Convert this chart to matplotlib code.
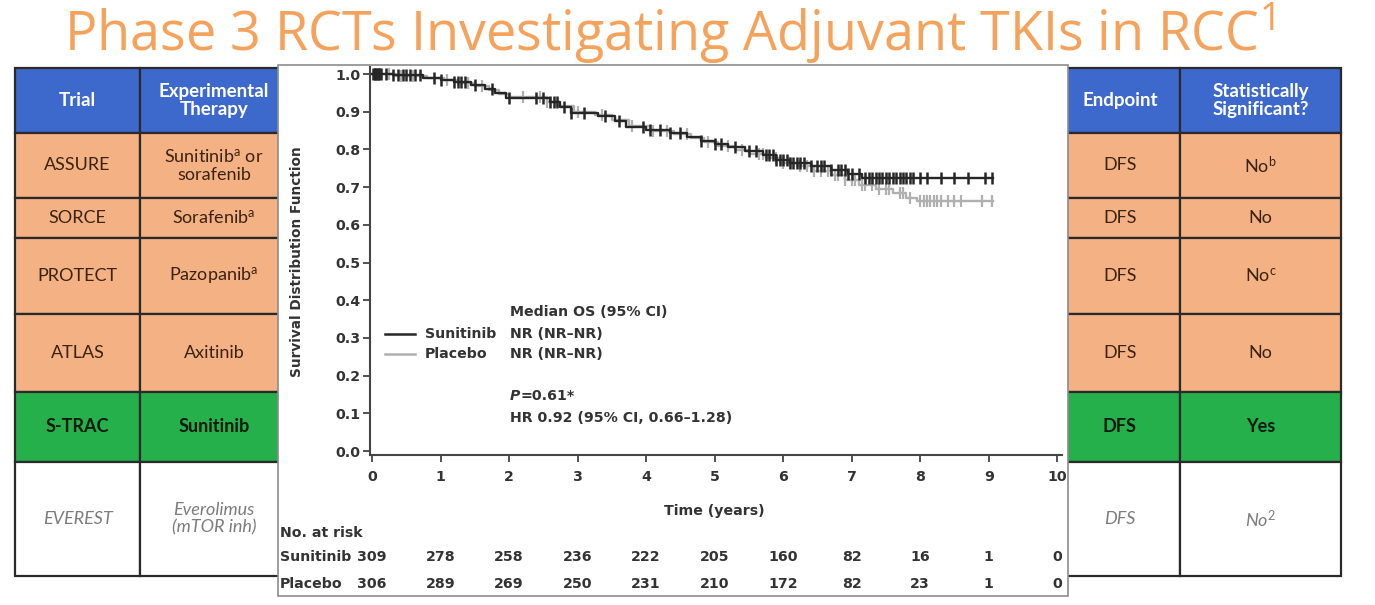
import matplotlib.pyplot as plt
import matplotlib.transforms as mtransforms
import numpy as np
from matplotlib.patches import Rectangle

plt.rcParams["mathtext.fontset"] = "custom"
plt.rcParams["mathtext.rm"] = "Lato"
plt.rcParams["mathtext.it"] = "Lato:italic"
plt.rcParams["mathtext.bf"] = "Lato:bold"

# ---- table data ----
headers_left = ["Trial", "Experimental\nTherapy"]
headers_right = ["Endpoint", "Statistically\nSignificant?"]
trials = ["ASSURE", "SORCE", "PROTECT", "ATLAS", "S-TRAC", "EVEREST"]
therapies = ["Sunitinib$^{\\mathrm{a}}$ or\nsorafenib", "Sorafenib$^{\\mathrm{a}}$",
             "Pazopanib$^{\\mathrm{a}}$", "Axitinib", "Sunitinib", "Everolimus\n(mTOR inh)"]
endpoints = ["DFS", "DFS", "DFS", "DFS", "DFS", "DFS"]
significant = ["No$^{\\mathrm{b}}$", "No", "No$^{\\mathrm{c}}$", "No", "Yes", "No$^{2}$"]
row_kind = ["neg", "neg", "neg", "neg", "pos", "other"]

# ---- Kaplan-Meier data ----
sun_t = [0, 0.3, 0.75, 1.0, 1.2, 1.45, 1.65, 1.8, 1.95, 2.6, 2.75, 2.9, 3.3, 3.55, 3.7,
         4.0, 4.35, 4.6, 4.8, 5.0, 5.2, 5.45, 5.7, 5.9, 6.1, 6.4, 6.7, 6.95, 7.15, 9.07]
sun_s = [1.0, 0.997, 0.99, 0.985, 0.978, 0.97, 0.96, 0.95, 0.937, 0.925, 0.913, 0.897, 0.889,
         0.875, 0.86, 0.852, 0.843, 0.833, 0.823, 0.815, 0.806, 0.795, 0.784, 0.772, 0.765,
         0.755, 0.745, 0.735, 0.724, 0.724]
pla_t = [0, 0.35, 0.8, 1.05, 1.25, 1.5, 1.7, 1.85, 2.0, 2.55, 2.7, 2.95, 3.25, 3.5, 3.75,
         4.05, 4.4, 4.65, 4.85, 5.05, 5.3, 5.5, 5.75, 5.95, 6.2, 6.45, 6.7, 6.9, 7.1, 7.35,
         7.6, 7.8, 7.95, 9.07]
pla_s = [1.0, 0.996, 0.99, 0.983, 0.976, 0.968, 0.958, 0.948, 0.938, 0.927, 0.915, 0.9,
         0.891, 0.878, 0.863, 0.85, 0.841, 0.831, 0.82, 0.81, 0.799, 0.788, 0.776, 0.765,
         0.755, 0.743, 0.731, 0.718, 0.706, 0.695, 0.684, 0.672, 0.662, 0.662]
sun_cens = [0.02, 0.04, 0.05, 0.07, 0.08, 0.1, 0.13, 0.2, 0.3, 0.38, 0.45, 0.5, 0.55, 0.62,
            0.7, 0.9, 1.0, 1.2, 1.25, 1.3, 1.35, 1.5, 1.75, 2.0, 2.4, 2.5, 2.6, 2.65, 2.7,
            2.8, 2.9, 3.1, 3.4, 3.6, 3.95, 4.05, 4.2, 4.35, 4.5, 4.8, 5.0, 5.1, 5.3, 5.5,
            5.6, 5.75, 5.8, 5.85, 5.9, 5.95, 6.0, 6.05, 6.1, 6.15, 6.2, 6.25, 6.3, 6.4, 6.5,
            6.55, 6.6, 6.7, 6.8, 6.85, 6.9, 6.95, 7.0, 7.1, 7.2, 7.25, 7.3, 7.35, 7.4, 7.45,
            7.5, 7.55, 7.6, 7.65, 7.7, 7.75, 7.8, 7.85, 7.9, 8.0, 8.1, 8.3, 8.5, 8.7, 8.95,
            9.05]
pla_cens = [0.04, 0.12, 0.25, 0.42, 0.6, 1.1, 1.4, 1.6, 2.2, 2.45, 2.55, 3.0, 3.35, 3.8,
            4.1, 4.3, 4.6, 4.9, 5.2, 5.4, 5.65, 5.7, 5.9, 6.0, 6.1, 6.25, 6.35, 6.45, 6.55,
            6.65, 6.75, 6.8, 6.9, 7.0, 7.05, 7.15, 7.2, 7.3, 7.4, 7.5, 7.55, 7.7, 7.75, 7.85,
            8.0, 8.05, 8.1, 8.15, 8.2, 8.25, 8.3, 8.4, 8.5, 8.6, 8.9, 9.05]
risk_times = [0, 1, 2, 3, 4, 5, 6, 7, 8, 9, 10]
risk_sun = [309, 278, 258, 236, 222, 205, 160, 82, 16, 1, 0]
risk_pla = [306, 289, 269, 250, 231, 210, 172, 82, 23, 1, 0]

W, H = 1375, 605
fig = plt.figure(figsize=(13.75, 6.05), dpi=100)
bg = fig.add_axes([0, 0, 1, 1])
bg.set_xlim(0, W)
bg.set_ylim(H, 0)
bg.axis("off")

bg.text(64, 34, "Phase 3 RCTs Investigating Adjuvant TKIs in RCC$^{\\mathregular{1}}$",
        fontsize=38.8, color="#F5A35C", family="Open Sans", ha="left", va="center")

# ---- table ----
row_edges = [68, 133, 198, 238, 314, 392, 462, 576]
left_cols = [15, 140, 290]
right_cols = [1060, 1180, 1341]
fills = {"head": "#3D68CC", "neg": "#F4B183", "pos": "#25B04B", "other": "white"}
tcolor = {"neg": "#3A2312", "pos": "#0E1A0E", "other": "#7C7C7C"}
tstyle = {"neg": ("normal", "normal"), "pos": ("bold", "normal"), "other": ("normal", "italic")}

for cols, heads, c1, c2 in [(left_cols, headers_left, trials, therapies),
                            (right_cols, headers_right, endpoints, significant)]:
    for j in range(2):
        x0, x1 = cols[j], cols[j + 1]
        xc = (x0 + x1) / 2 if not (cols is left_cols and j == 1) else 214
        bg.add_patch(Rectangle((x0, row_edges[0]), x1 - x0, row_edges[1] - row_edges[0],
                               fc=fills["head"], ec="#2a2a2a", lw=1.6))
        bg.text(xc, (row_edges[0] + row_edges[1]) / 2, heads[j], color="white",
                fontweight="bold", family="Lato", fontsize=13.5, ha="center",
                va="center", linespacing=1.1)
        vals = c1 if j == 0 else c2
        for i, v in enumerate(vals):
            kind = row_kind[i]
            y0, y1 = row_edges[i + 1], row_edges[i + 2]
            bg.add_patch(Rectangle((x0, y0), x1 - x0, y1 - y0, fc=fills[kind],
                                   ec="#2a2a2a", lw=1.6))
            w, s = tstyle[kind]
            bg.text(xc, (y0 + y1) / 2, v, color=tcolor[kind], fontweight=w, fontstyle=s,
                    family="Lato", fontsize=13, ha="center", va="center",
                    linespacing=1.1)

# ---- KM panel ----
bg.add_patch(Rectangle((278, 65), 790, 531, fc="white", ec="#8c8c8c", lw=1.2, zorder=5))
km_font = dict(family="DejaVu Sans", fontweight="bold", color="#333333")
fs = 10.2
bg.text(297, 262, "Survival Distribution Function", rotation=90, ha="center", va="center",
        fontsize=9.8, zorder=6, **km_font)

ax = fig.add_axes([370 / W, 1 - 455 / H, (1062 - 370) / W, (455 - 67) / H])
ax.set_facecolor("none")
ax.set_xlim(-0.03, 10.07)
ax.set_ylim(-0.0106, 1.0186)
for side in ["top", "right"]:
    ax.spines[side].set_visible(False)
for side in ["left", "bottom"]:
    ax.spines[side].set_color("#444444")
    ax.spines[side].set_linewidth(1.5)
ax.set_xticks(risk_times)
ax.set_yticks(np.arange(0, 1.01, 0.1))
ax.set_yticklabels([f"{v:.1f}" for v in np.arange(0, 1.01, 0.1)])
ax.tick_params(direction="out", length=5, width=1.3, color="#444444", labelsize=fs,
               labelcolor="#333333")
ax.tick_params(axis="x", pad=6)
ax.tick_params(axis="y", pad=2)
for lab in ax.get_xticklabels() + ax.get_yticklabels():
    lab.set_fontweight("bold")
    lab.set_family("DejaVu Sans")


def km_at(times, surv, pts):
    idx = np.searchsorted(times, pts, side="right") - 1
    return np.asarray(surv)[idx]


pla_col, sun_col = "#b0b0b0", "#262626"
ax.step(pla_t, pla_s, where="post", color=pla_col, lw=1.7)
ax.plot(pla_cens, km_at(pla_t, pla_s, pla_cens), ls="none", marker="|", ms=9, mew=1.6,
        color=pla_col)
ax.step(sun_t, sun_s, where="post", color=sun_col, lw=1.7)
ax.plot(sun_cens, km_at(sun_t, sun_s, sun_cens), ls="none", marker="|", ms=9, mew=1.8,
        color=sun_col)

# legend block
ax.text(2.01, 0.369, "Median OS (95% CI)", fontsize=fs, va="center", **km_font)
ax.plot([0.19, 0.63], [0.31, 0.31], color=sun_col, lw=1.8)
ax.plot([0.19, 0.63], [0.257, 0.257], color=pla_col, lw=1.8)
ax.text(0.77, 0.31, "Sunitinib", fontsize=fs, va="center", **km_font)
ax.text(0.77, 0.257, "Placebo", fontsize=fs, va="center", **km_font)
ax.text(2.01, 0.31, "NR (NR\u2013NR)", fontsize=fs, va="center", **km_font)
ax.text(2.01, 0.257, "NR (NR\u2013NR)", fontsize=fs, va="center", **km_font)
ax.text(2.01, 0.146, "P", fontsize=fs, va="center", fontstyle="italic", **km_font)
ax.text(2.17, 0.146, "=0.61*", fontsize=fs, va="center", **km_font)
ax.text(2.01, 0.0875, "HR 0.92 (95% CI, 0.66\u20131.28)", fontsize=fs, va="center",
        **km_font)

# axis label and risk table
tr = mtransforms.blended_transform_factory(ax.transData, bg.transData)
ax.text(5.0, 511, "Time (years)", transform=tr, ha="center", va="center", fontsize=fs,
        clip_on=False, **km_font)
bg.text(280, 533, "No. at risk", ha="left", va="center", fontsize=fs, zorder=6, **km_font)
bg.text(280, 557, "Sunitinib", ha="left", va="center", fontsize=fs, zorder=6, **km_font)
bg.text(280, 584, "Placebo", ha="left", va="center", fontsize=fs, zorder=6, **km_font)
for t, a, b in zip(risk_times, risk_sun, risk_pla):
    ax.text(t, 557, str(a), transform=tr, ha="center", va="center", fontsize=fs,
            clip_on=False, **km_font)
    ax.text(t, 584, str(b), transform=tr, ha="center", va="center", fontsize=fs,
            clip_on=False, **km_font)

fig.savefig("out.png", dpi=100)
